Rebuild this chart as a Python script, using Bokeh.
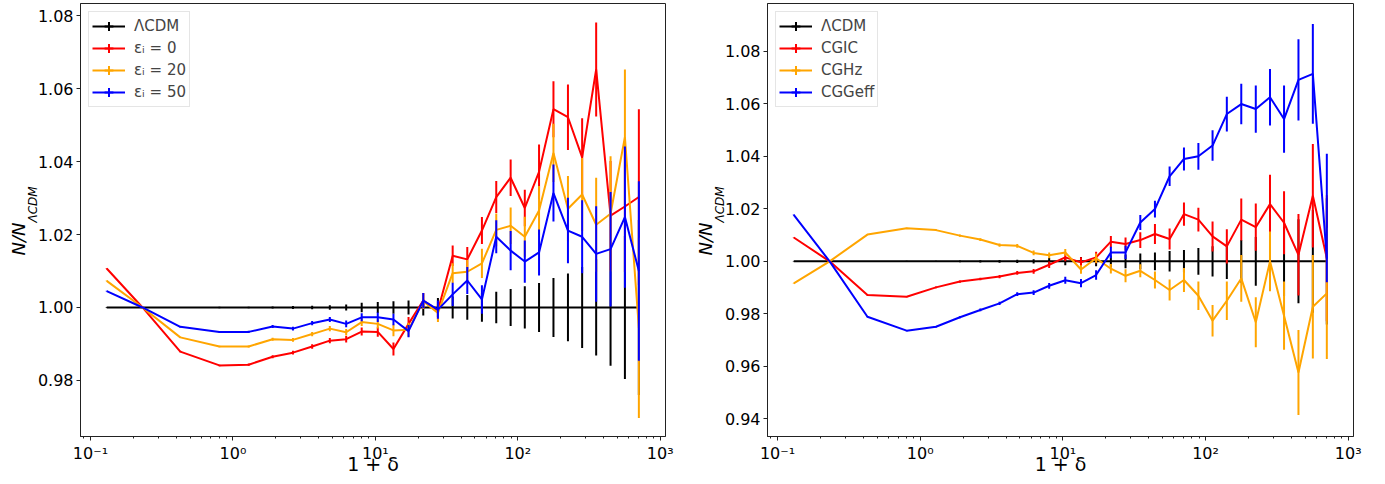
import numpy as np
from bokeh.plotting import figure
from bokeh.models import (ColumnDataSource, FixedTicker, PrintfTickFormatter, CustomJSTickFormatter,
                          Legend, LegendItem, Title, Range1d)
from bokeh.layouts import row
from bokeh.embed import file_html
from bokeh.resources import INLINE

# ---------------- data ----------------
one_plus_delta = [0.130, 0.232, 0.427, 0.804, 1.29, 1.90, 2.64, 3.60, 4.79, 6.24,
                  8.02, 10.4, 13.4, 17.1, 21.7, 27.5, 34.9, 44.2, 56.0, 70.6,
                  89.1, 112.0, 141.0, 178.0, 225.0, 283.0, 355.0, 448.0, 565.0, 708.0]

lcdm = [1.0, 1.0, 1.0, 1.0, 1.0, 1.0, 1.0, 1.0, 1.0, 1.0,
        1.0, 1.0, 1.0, 1.0, 1.0, 1.0, 1.0, 1.0, 1.0, 1.0,
        1.0, 1.0, 1.0, 1.0, 1.0, 1.0, 1.0, 1.0, 1.0, 1.0]
lcdm_err = [0.0001, 0.0001, 0.0001, 0.0002, 0.0002, 0.0003, 0.0004, 0.0005, 0.0006, 0.0008,
            0.0013, 0.0015, 0.0017, 0.0019, 0.0022, 0.0026, 0.0030, 0.0034, 0.0039, 0.0043,
            0.0051, 0.0058, 0.0067, 0.0081, 0.0093, 0.0111, 0.0132, 0.0160, 0.0196, 0.0240]

# left panel
eps0 = [1.0107, 1.0000, 0.9879, 0.9841, 0.9843, 0.9865, 0.9876, 0.9893, 0.9909, 0.9913,
        0.9934, 0.9933, 0.9886, 0.9955, 1.0019, 0.9992, 1.0142, 1.0132, 1.0211, 1.0303,
        1.0356, 1.0273, 1.0372, 1.0544, 1.0522, 1.0412, 1.0653, 1.0252, 1.0277, 1.0303]
eps0_err = [0.0001, 0.0001, 0.0002, 0.0002, 0.0003, 0.0004, 0.0005, 0.0006, 0.0007, 0.0009,
            0.0011, 0.0013, 0.0018, 0.0019, 0.0021, 0.0025, 0.0028, 0.0034, 0.0037, 0.0044,
            0.0050, 0.0050, 0.0075, 0.0077, 0.0090, 0.0107, 0.0129, 0.0150, 0.0180, 0.0241]

eps20 = [1.0073, 1.0000, 0.9918, 0.9893, 0.9893, 0.9913, 0.9911, 0.9927, 0.9942, 0.9932,
         0.9960, 0.9955, 0.9937, 0.9939, 1.0017, 0.9985, 1.0094, 1.0098, 1.0121, 1.0213,
         1.0224, 1.0194, 1.0266, 1.0424, 1.0271, 1.0310, 1.0227, 1.0257, 1.0467, 0.9944]
eps20_err = [0.0001, 0.0001, 0.0002, 0.0002, 0.0003, 0.0004, 0.0005, 0.0006, 0.0007, 0.0009,
             0.0011, 0.0013, 0.0016, 0.0019, 0.0021, 0.0025, 0.0027, 0.0032, 0.0040, 0.0045,
             0.0050, 0.0055, 0.0067, 0.0080, 0.0090, 0.0100, 0.0129, 0.0158, 0.0186, 0.0247]

eps50 = [1.0045, 1.0000, 0.9947, 0.9933, 0.9933, 0.9948, 0.9942, 0.9957, 0.9967, 0.9955,
         0.9973, 0.9973, 0.9967, 0.9935, 1.0019, 0.9994, 1.0036, 1.0074, 1.0022, 1.0194,
         1.0156, 1.0126, 1.0151, 1.0314, 1.0211, 1.0194, 1.0147, 1.0160, 1.0248, 1.0100]
eps50_err = [0.0001, 0.0001, 0.0002, 0.0002, 0.0003, 0.0004, 0.0005, 0.0006, 0.0007, 0.0009,
             0.0011, 0.0013, 0.0016, 0.0017, 0.0021, 0.0025, 0.0032, 0.0037, 0.0039, 0.0045,
             0.0054, 0.0058, 0.0063, 0.0078, 0.0090, 0.0100, 0.0131, 0.0157, 0.0194, 0.0246]

# right panel
cgic = [1.0091, 1.0000, 0.9872, 0.9865, 0.9901, 0.9923, 0.9933, 0.9942, 0.9956, 0.9962,
        0.9987, 1.0015, 0.9996, 1.0015, 1.0075, 1.0066, 1.0081, 1.0104, 1.0085, 1.0180,
        1.0159, 1.0095, 1.0057, 1.0159, 1.0130, 1.0218, 1.0147, 1.0025, 1.0250, 1.0012]
cgic_err = [0.0001, 0.0001, 0.0002, 0.0002, 0.0003, 0.0004, 0.0005, 0.0006, 0.0007, 0.0009,
            0.0012, 0.0015, 0.0020, 0.0022, 0.0022, 0.0025, 0.0030, 0.0038, 0.0040, 0.0044,
            0.0045, 0.0057, 0.0065, 0.0080, 0.0090, 0.0112, 0.0120, 0.0155, 0.0197, 0.0240]

cghz = [0.9916, 1.0000, 1.0102, 1.0126, 1.0119, 1.0098, 1.0083, 1.0062, 1.0059, 1.0032,
        1.0023, 1.0034, 0.9969, 1.0012, 0.9972, 0.9945, 0.9964, 0.9929, 0.9891, 0.9929,
        0.9869, 0.9774, 0.9850, 0.9935, 0.9768, 1.0000, 0.9793, 0.9577, 0.9827, 0.9878]
cghz_err = [0.0001, 0.0001, 0.0002, 0.0002, 0.0003, 0.0004, 0.0005, 0.0006, 0.0007, 0.0009,
            0.0011, 0.0013, 0.0016, 0.0018, 0.0018, 0.0025, 0.0025, 0.0032, 0.0040, 0.0046,
            0.0054, 0.0060, 0.0073, 0.0089, 0.0095, 0.0114, 0.0130, 0.0162, 0.0197, 0.0250]

cggeff = [1.0177, 1.0000, 0.9789, 0.9736, 0.9751, 0.9787, 0.9815, 0.9840, 0.9875, 0.9881,
          0.9907, 0.9928, 0.9917, 0.9948, 1.0034, 1.0034, 1.0148, 1.0199, 1.0324, 1.0390,
          1.0400, 1.0441, 1.0561, 1.0599, 1.0580, 1.0625, 1.0542, 1.0691, 1.0714, 1.0010]
cggeff_err_hi = [0.0001, 0.0001, 0.0002, 0.0002, 0.0003, 0.0004, 0.0005, 0.0006, 0.0007, 0.0009,
                 0.0011, 0.0013, 0.0016, 0.0018, 0.0022, 0.0025, 0.0029, 0.0032, 0.0037, 0.0044,
                 0.0051, 0.0058, 0.0066, 0.0077, 0.0090, 0.0108, 0.0128, 0.0155, 0.0190, 0.0400]
cggeff_err_lo = [0.0001, 0.0001, 0.0002, 0.0002, 0.0003, 0.0004, 0.0005, 0.0006, 0.0007, 0.0009,
                 0.0011, 0.0013, 0.0016, 0.0018, 0.0022, 0.0025, 0.0029, 0.0032, 0.0037, 0.0044,
                 0.0051, 0.0058, 0.0066, 0.0077, 0.0090, 0.0108, 0.0128, 0.0155, 0.0190, 0.0090]

x_tick_values = [0.1, 1, 10, 100, 1000]
left_y_ticks = [0.98, 1.00, 1.02, 1.04, 1.06, 1.08]
right_y_ticks = [0.94, 0.96, 0.98, 1.00, 1.02, 1.04, 1.06, 1.08]
left_labels = ["ΛCDM", "εᵢ = 0", "εᵢ = 20", "εᵢ = 50"]
right_labels = ["ΛCDM", "CGIC", "CGHz", "CGGeff"]
x_label = "1 + δ"
y_label_main = "N/N"
y_label_sub = "ΛCDM"

# ---------------- styling ----------------
FONT = "DejaVu Sans"
COLORS = ["black", "#ff0000", "#ffa500", "#0000ff"]
LW = 2
FRAME_H = 433

x_minor = [m * d for d in [0.01, 0.1, 1, 10, 100, 1000] for m in range(2, 10)]


def make_fig(y_range, y_ticks, frame_w, border_left, border_right):
    p = figure(x_axis_type="log", output_backend="svg", toolbar_location=None,
               frame_width=frame_w, frame_height=FRAME_H,
               x_range=Range1d(10 ** -1.07, 10 ** 3.037), y_range=Range1d(*y_range),
               min_border_left=border_left, min_border_right=border_right,
               min_border_top=3, min_border_bottom=10,
               background_fill_color="white", border_fill_color="white")
    p.grid.visible = False
    p.outline_line_color = "#222222"
    p.outline_line_width = 1
    p.xaxis.ticker = FixedTicker(ticks=x_tick_values, minor_ticks=x_minor)
    p.xaxis.formatter = CustomJSTickFormatter(code="""
        const sup = {"-":"\u207b","0":"\u2070","1":"\u00b9","2":"\u00b2","3":"\u00b3",
                     "4":"\u2074","5":"\u2075","6":"\u2076","7":"\u2077","8":"\u2078","9":"\u2079"};
        const e = Math.round(Math.log10(tick));
        return "10" + String(e).split("").map(c => sup[c]).join("");
    """)
    p.yaxis.ticker = FixedTicker(ticks=y_ticks, minor_ticks=[])
    p.yaxis.formatter = PrintfTickFormatter(format="%.2f")
    for ax in (p.xaxis[0], p.yaxis[0]):
        ax.axis_line_color = "#222222"
        ax.major_tick_line_color = "#222222"
        ax.minor_tick_line_color = "#222222"
        ax.major_tick_in = 0
        ax.major_tick_out = 4
        ax.minor_tick_in = 0
        ax.minor_tick_out = 2
        ax.major_label_text_font = FONT
        ax.major_label_text_font_size = "16px"
        ax.major_label_text_color = "black"
        ax.major_label_standoff = 3
    p.xaxis.axis_label = x_label
    p.xaxis.axis_label_text_font = FONT
    p.xaxis.axis_label_text_font_size = "19px"
    p.xaxis.axis_label_text_font_style = "normal"
    p.xaxis.axis_label_text_color = "black"
    p.xaxis.axis_label_standoff = -13
    # y axis label: "N/N" with subscript "ΛCDM"
    p.add_layout(Title(text=y_label_sub, align="left", offset=214, standoff=-10,
                       text_font=FONT, text_font_size="12px", text_font_style="italic",
                       text_color="black"), "left")
    p.add_layout(Title(text=y_label_main, align="right", offset=219, standoff=0,
                       text_font=FONT, text_font_size="18px", text_font_style="italic",
                       text_color="black"), "left")
    return p


def add_series(p, ys, err_lo, err_hi, color):
    src = ColumnDataSource(dict(
        x=one_plus_delta, y=ys,
        y0=[v - e for v, e in zip(ys, err_lo)],
        y1=[v + e for v, e in zip(ys, err_hi)]))
    p.segment(x0="x", y0="y0", x1="x", y1="y1", source=src, line_color=color, line_width=LW)
    ln = p.line("x", "y", source=src, line_color=color, line_width=LW)
    tick = p.scatter(x=np.array([np.nan]), y=np.array([np.nan]), marker="cross",
                     size=14, line_color=color, line_width=LW)
    return [ln, tick]


def add_legend(p, labels, renderer_sets):
    items = [LegendItem(label=l, renderers=r) for l, r in zip(labels, renderer_sets)]
    leg = Legend(items=items, location="top_left", margin=8, padding=3, spacing=0,
                 glyph_width=33, glyph_height=22, label_height=22, label_standoff=9,
                 label_text_font=FONT, label_text_font_size="15px",
                 border_line_color="#cccccc", border_line_width=1,
                 background_fill_color="white", background_fill_alpha=0.8)
    p.add_layout(leg)


# left panel
p1 = make_fig((0.9646, 1.0834), left_y_ticks, 585, 80, 27)
r = [add_series(p1, lcdm, lcdm_err, lcdm_err, COLORS[0]),
     add_series(p1, eps0, eps0_err, eps0_err, COLORS[1]),
     add_series(p1, eps20, eps20_err, eps20_err, COLORS[2]),
     add_series(p1, eps50, eps50_err, eps50_err, COLORS[3])]
add_legend(p1, left_labels, r)

# right panel
p2 = make_fig((0.9333, 1.0982), right_y_ticks, 586, 75, 20)
r = [add_series(p2, lcdm, lcdm_err, lcdm_err, COLORS[0]),
     add_series(p2, cgic, cgic_err, cgic_err, COLORS[1]),
     add_series(p2, cghz, cghz_err, cghz_err, COLORS[2]),
     add_series(p2, cggeff, cggeff_err_lo, cggeff_err_hi, COLORS[3])]
add_legend(p2, right_labels, r)

layout = row(p1, p2)
open("out.html", "w").write(file_html(layout, INLINE))
